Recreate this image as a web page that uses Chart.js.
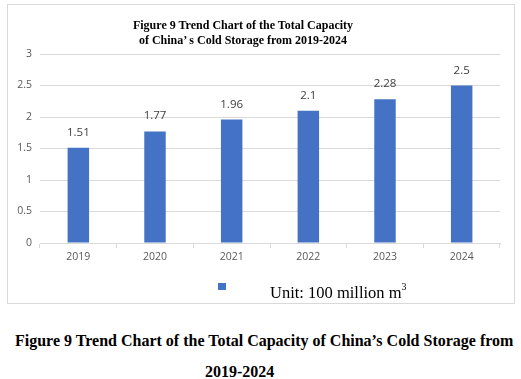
<!DOCTYPE html>
<html>
<head>
<meta charset="utf-8">
<script src="https://cdn.jsdelivr.net/npm/chart.js@4/dist/chart.umd.min.js"></script>
<style>
  html, body { margin: 0; padding: 0; background: #fff; width: 521px; height: 379px; overflow: hidden; }
  #box { position: absolute; left: 7px; top: 4px; width: 508px; height: 300px; border: 1px solid #d9d9d9; box-sizing: border-box; }
  #box canvas { display: block; }
  .serif { font-family: "Liberation Serif", "Times New Roman", serif; color: #000; white-space: nowrap; }
  #title { position: absolute; left: 0; width: 470px; top: 13px; text-align: center; font-weight: bold; font-size: 12px; line-height: 14.5px; }
  #legend { position: absolute; left: 210px; top: 271px; height: 20px; font-size: 16.5px; line-height: 20px; }
  #legend .sw { position: absolute; left: 0; top: 7px; width: 8px; height: 7px; background: #4472c4; }
  #legend .tx { position: absolute; left: 52px; top: 2px; }
  #legend sup { font-size: 10px; position: relative; top: -1px; }
  .cap { position: absolute; font-weight: bold; font-size: 16px; }
</style>
</head>
<body>
<div id="box">
  <canvas id="c" width="506" height="298"></canvas>
  <div id="title" class="serif"></div>
  <div id="legend" class="serif"><span class="sw"></span><span class="tx"></span></div>
</div>
<div class="cap serif" style="left:15px; top:332px;">Figure 9 Trend Chart of the Total Capacity of China’s Cold Storage from</div>
<div class="cap serif" style="left:205px; top:363px;">2019-2024</div>
<script>
const categories = ["2019", "2020", "2021", "2022", "2023", "2024"];
const capacity = [1.51, 1.77, 1.96, 2.1, 2.28, 2.5];
const seriesLabel = "Unit: 100 million m";
const unitPower = "3";
const titleLines = ["Figure 9 Trend Chart of the Total Capacity", "of China\u2019 s Cold Storage from 2019-2024"];

document.getElementById("title").innerHTML = titleLines.join("<br>");
document.querySelector("#legend .tx").innerHTML = seriesLabel + "<sup>" + unitPower + "</sup>";

const valueLabels = {
  id: "valueLabels",
  afterDatasetsDraw(chart) {
    const ctx = chart.ctx;
    const meta = chart.getDatasetMeta(0);
    ctx.save();
    ctx.font = "11.5px 'Open Sans', 'Liberation Sans', sans-serif";
    ctx.fillStyle = "#404040";
    ctx.textAlign = "center";
    ctx.textBaseline = "alphabetic";
    meta.data.forEach((bar, i) => {
      ctx.fillText(String(capacity[i]), bar.x, bar.y - 12);
    });
    ctx.restore();
  }
};

const tickFont = { family: "'Open Sans', 'Liberation Sans', sans-serif", size: 10.5 };

new Chart(document.getElementById("c"), {
  type: "bar",
  data: {
    labels: categories,
    datasets: [{
      label: seriesLabel,
      data: capacity,
      backgroundColor: "#4472c4",
      barPercentage: 0.56,
      categoryPercentage: 0.5
    }]
  },
  options: {
    responsive: false,
    animation: false,
    layout: { padding: { left: 0, right: 14, top: 49, bottom: 35 } },
    plugins: {
      title: { display: false },
      legend: { display: false },
      tooltip: { enabled: false }
    },
    scales: {
      y: {
        min: 0, max: 3,
        afterFit(scale) { scale.width = 32; },
        ticks: { stepSize: 0.5, color: "#595959", font: tickFont, padding: 8, callback: (v) => String(v) },
        grid: { color: "#d9d9d9", drawTicks: false },
        border: { display: false }
      },
      x: {
        afterFit(scale) { scale.height = 25; },
        ticks: { color: "#595959", font: tickFont, padding: 3 },
        grid: { drawOnChartArea: false, color: "#d9d9d9", tickLength: 5, offset: true },
        border: { color: "#d9d9d9" }
      }
    }
  },
  plugins: [valueLabels]
});
</script>
</body>
</html>
